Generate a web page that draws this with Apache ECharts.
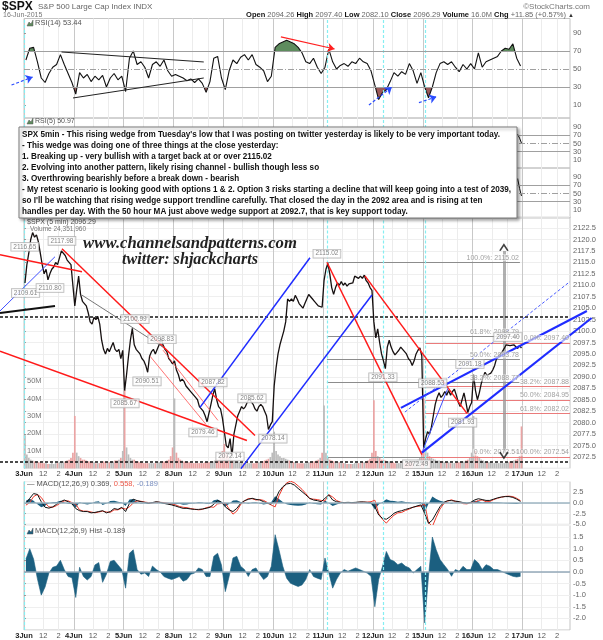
<!DOCTYPE html>
<html>
<head>
<meta charset="utf-8">
<script src="https://cdn.jsdelivr.net/npm/echarts@6/dist/echarts.min.js"></script>
<style>
  html, body { margin: 0; padding: 0; background: #fff; }
  #chart { width: 603px; height: 640px; }
</style>
</head>
<body>
<div id="chart"></div>
<script>
var SESSION = 6.5;   // trading hours per day
var XMAX = 71.2;

var dayLabels = ['3Jun', '4Jun', '5Jun', '8Jun', '9Jun', '10Jun', '11Jun', '12Jun', '15Jun', '16Jun', '17Jun'];
var hourOffsets = [2.5, 4.5];
var hourLabels = ['12', '2'];

// 15-minute closes, one row per session (26 each)
var closes = [
  [2110.5, 2114.5, 2117, 2120, 2121.5, 2120.5, 2121, 2119.5, 2117, 2114.5, 2112.5, 2113.5, 2111.2, 2112.5, 2113.5, 2114, 2115, 2114.5, 2116, 2117.5, 2117.8, 2116.5, 2115.5, 2115, 2114.5, 2114.1],
  [2105.5, 2109, 2112, 2108, 2106.5, 2106, 2105.5, 2104, 2102, 2101.5, 2103, 2102.5, 2103.2, 2101.5, 2098, 2096, 2095, 2096.2, 2095.5, 2096.5, 2097.5, 2096, 2095.5, 2096, 2094, 2095.8],
  [2087, 2090.5, 2094.5, 2098, 2100.6, 2097, 2096, 2095.5, 2095, 2094, 2093.5, 2092.5, 2091, 2094.5, 2095.5, 2096, 2095, 2096, 2097, 2098.4, 2097, 2096, 2095.5, 2094, 2093.5, 2092.8],
  [2093.5, 2091.5, 2090.5, 2089, 2089.5, 2089, 2088, 2087.5, 2087, 2086.5, 2086, 2085.5, 2085, 2083.5, 2083, 2082.5, 2081.5, 2080.2, 2079.8, 2084, 2086, 2087.4, 2085, 2083.5, 2083, 2081],
  [2078, 2075, 2074.5, 2076.5, 2072.6, 2077.5, 2079.5, 2081.5, 2082.5, 2083.5, 2083, 2083.5, 2084.5, 2085.2, 2085.5, 2084, 2083, 2082.5, 2083.5, 2084, 2083.5, 2082.5, 2081.5, 2078.5, 2079.5, 2080.2],
  [2088, 2092, 2095, 2097, 2098.5, 2100, 2102, 2107, 2106.5, 2107, 2106.5, 2107.8, 2107, 2106, 2105.5, 2105, 2106, 2107, 2108, 2107.5, 2107, 2106.5, 2106, 2105.5, 2105.8, 2105.2],
  [2111, 2113.5, 2114.8, 2112.5, 2109.5, 2108, 2109.5, 2110.5, 2110, 2110.8, 2110, 2110.5, 2109.8, 2110.3, 2110, 2110.5, 2112, 2112.3, 2111.5, 2112, 2111.5, 2112.2, 2111, 2110.5, 2109.5, 2108.9],
  [2102, 2098.5, 2100.5, 2097.5, 2095, 2093.5, 2091.8, 2096.5, 2098, 2096.5, 2095.5, 2094.8, 2095.3, 2095.8, 2096.5, 2096.8, 2095.5, 2095, 2094, 2093.5, 2092.5, 2093.5, 2095, 2095.8, 2096.3, 2094.6],
  [2074.5, 2076.5, 2078, 2077.5, 2079, 2081.5, 2084, 2085.5, 2086.5, 2085.5, 2086, 2086.8, 2086, 2087, 2086, 2086.8, 2087.3, 2086, 2084.5, 2083.5, 2085, 2086.5, 2084.5, 2082.2, 2083.5, 2084.4],
  [2090.5, 2087, 2085, 2086.5, 2088.5, 2090, 2091, 2090.3, 2090.5, 2090.8, 2091.5, 2092.5, 2094, 2094.3, 2095, 2095.5, 2096.2, 2097, 2097.3, 2096.8, 2096.5, 2097, 2096.8, 2096.2, 2096.8, 2096.3]
];

// volume of the 5-min bar at each 15-minute step, millions
var volumes = [
  [19, 8, 6, 5, 4.5, 4, 4, 3.5, 3.5, 3, 3, 3, 2.5, 2.5, 3, 2.5, 3, 3, 3.5, 3.5, 4, 4, 4.5, 5, 6, 9],
  [30, 9, 7, 6, 5, 5, 4.5, 4, 4, 3.5, 3.5, 3, 3, 3, 3.5, 4, 3.5, 3.5, 3.5, 4, 4, 4.5, 4.5, 5, 6, 10],
  [45, 12, 8, 6, 5, 5, 4, 4, 3.5, 3.5, 3, 3, 3, 3, 3, 3, 3, 3.5, 3.5, 3.5, 4, 4, 4.5, 5, 7, 12],
  [40, 9, 6, 5, 4.5, 4, 4, 3.5, 3.5, 3, 3, 3, 3, 3, 3, 3, 3.5, 3.5, 3.5, 4, 4, 4.5, 5, 5, 6, 10],
  [14, 9, 7, 6, 5, 4.5, 4, 4, 3.5, 3.5, 3, 3, 3, 3, 3, 3, 3, 3.5, 3.5, 4, 4, 4.5, 5, 5.5, 6.5, 9],
  [21, 10, 8, 7, 6, 6, 5.5, 5, 4.5, 4, 3.5, 3.5, 3, 3, 3, 3, 3, 3, 3.5, 3.5, 4, 4, 4.5, 5, 6, 9],
  [36, 9, 6, 5, 4.5, 4, 4, 3.5, 3.5, 3, 3, 3, 2.5, 2.5, 2.5, 2.5, 3, 3, 3, 3, 3.5, 3.5, 4, 4.5, 5.5, 9],
  [39, 10, 7, 6, 5, 5, 4.5, 4, 4, 3.5, 3.5, 3, 3, 3, 3, 3, 3, 3.5, 3.5, 3.5, 4, 4, 4.5, 5, 6, 10],
  [40, 13, 9, 7, 6, 5.5, 5, 4.5, 4.5, 4, 4, 3.5, 3.5, 3.5, 3, 3, 3, 3.5, 3.5, 3.5, 4, 4, 4.5, 5, 6, 9],
  [30, 10, 7, 6, 5, 4.5, 4, 4, 3.5, 3.5, 3, 3, 3, 3, 3, 3, 3, 3.5, 3.5, 4, 4, 4.5, 5, 5.5, 7, 24]
];

// indicators read every 30 minutes (13 per session)
var rsi14 = [
  [60, 73, 74, 58, 40, 35, 45, 52, 55, 66, 55, 45, 35],
  [22, 46, 40, 44, 36, 42, 38, 43, 30, 40, 45, 38, 42],
  [25, 62, 70, 55, 58, 52, 40, 55, 58, 53, 60, 48, 42],
  [44, 42, 40, 37, 39, 35, 39, 34, 24, 36, 62, 64, 40],
  [27, 48, 60, 56, 63, 66, 60, 66, 55, 52, 48, 36, 42],
  [74, 78, 80, 82, 80, 78, 74, 68, 58, 56, 62, 52, 45],
  [52, 72, 58, 50, 54, 56, 53, 58, 56, 62, 58, 56, 48],
  [32, 16, 24, 27, 36, 46, 42, 47, 44, 56, 48, 34, 46],
  [30, 18, 30, 46, 56, 58, 55, 58, 52, 47, 55, 50, 56],
  [50, 68, 52, 58, 60, 62, 64, 70, 73, 72, 78, 62, 53.44]
];
var macdLine = [
  [-0.1, 1.1, 2.2, 2.0, 0.3, -1.0, -1.2, -0.9, -0.3, 0.3, 0.7, 0.3, -0.2],
  [-1.3, -1.8, -2.0, -2.0, -2.3, -2.2, -2.0, -1.8, -2.3, -2.0, -1.3, -1.5, -1.0],
  [-2.0, -0.1, 0.9, 0.55, 0.3, 0.15, -0.1, 0.1, 0.3, 0.15, -0.1, -0.25, -0.45],
  [-0.7, -1.0, -1.25, -1.25, -1.4, -1.5, -1.5, -1.4, -1.25, -1.0, -0.3, 0.6, 0.2],
  [-0.9, -1.6, -2.0, -1.25, -0.1, 0.55, 0.85, 1.1, 0.85, 0.7, 0.3, -0.1, -0.25],
  [0.7, 2.65, 3.8, 4.45, 4.6, 4.2, 3.4, 2.65, 1.9, 1.1, 0.7, 0.55, 0.3],
  [1.1, 1.9, 0.7, 0.3, 0.15, 0.1, 0.15, 0.1, 0.15, 0.25, 0.25, 0.15, 0.1],
  [-0.85, -2.8, -3.6, -3.8, -3.2, -2.4, -2.0, -1.8, -1.5, -1.25, -1.0, -0.7, -0.45],
  [-2.4, -4.75, -4.0, -2.4, -0.85, 0.15, 0.55, 0.55, 0.45, 0.3, 0.1, -0.1, 0.15],
  [0.7, 1.0, 0.8, 0.6, 0.6, 0.9, 1.2, 1.4, 1.5, 1.5, 1.3, 0.9, 0.369]
];
var signalLine = [
  [-0.5, 0.1, 1.5, 2.0, 1.3, 0.0, -0.9, -1.0, -0.6, 0.0, 0.5, 0.5, 0.1],
  [-0.3, -1.6, -1.9, -1.9, -2.1, -2.3, -2.1, -1.9, -2.1, -2.2, -1.6, -1.6, -1.2],
  [-1.4, -0.9, 0.0, 0.5, 0.4, 0.2, 0.1, 0.0, 0.2, 0.15, 0.1, -0.05, -0.2],
  [-0.45, -0.8, -1.0, -1.1, -1.3, -1.45, -1.6, -1.5, -1.1, -0.9, -1.0, -0.2, -0.1],
  [-0.05, -1.4, -2.6, -1.9, -0.35, 0.45, 1.05, 1.0, 0.7, 0.8, 0.6, 0.1, -0.5],
  [-0.9, 1.7, 3.55, 4.7, 5.1, 4.75, 4.0, 3.2, 2.2, 1.0, 0.9, 0.8, 0.6],
  [0.5, 1.95, 1.4, 0.6, 0.2, 0.0, 0.1, 0.0, 0.0, 0.15, 0.2, 0.2, 0.3],
  [0.65, -2.45, -3.85, -4.7, -3.7, -2.85, -2.3, -2.2, -1.75, -1.4, -0.95, -0.8, -0.7],
  [-0.2, -4.55, -5.5, -3.35, -1.4, -0.15, 0.45, 0.75, 0.35, 0.25, -0.15, -0.2, 0.05],
  [0.15, 0.6, 0.7, 0.3, 0.35, 0.8, 1.1, 1.35, 1.55, 1.6, 1.5, 1.1, 0.558]
];
var macdHist = [
  [0.55, 1.0, 0.55, -0.3, -1.0, -0.65, -0.05, 0.2, 0.25, 0.5, 0.1, -0.2, -0.25],
  [-1.1, 0.2, -0.2, -0.35, -0.2, 0.3, 0.4, -0.45, -0.1, 0.45, 0.5, 0.3, 0.1],
  [-0.7, 0.8, 0.95, 0.1, -0.1, -0.05, -0.2, 0.25, 0.1, 0.0, -0.2, -0.27, -0.33],
  [-0.27, -0.2, -0.4, -0.33, -0.1, -0.05, 0.17, 0.1, -0.2, -0.2, 0.67, 0.8, 0.3],
  [-0.85, -0.2, 0.6, 0.67, 0.24, 0.1, -0.2, 0.1, 0.17, -0.1, -0.33, -0.2, 0.24],
  [1.6, 0.95, 0.24, -0.27, -0.49, -0.56, -0.63, -0.56, -0.33, 0.1, -0.2, -0.27, -0.33],
  [0.6, -0.05, -0.7, -0.33, -0.05, 0.1, 0.03, 0.1, 0.17, 0.1, 0.03, -0.05, -0.19],
  [-1.5, -0.33, 0.24, 0.88, 0.53, 0.46, 0.31, 0.38, 0.24, 0.17, -0.05, 0.1, 0.24],
  [-2.2, -0.19, 1.5, 0.95, 0.53, 0.31, 0.1, -0.19, 0.1, 0.03, 0.24, 0.1, 0.1],
  [0.53, 0.38, 0.1, 0.31, 0.24, 0.1, 0.1, 0.03, -0.05, -0.12, -0.19, -0.22, -0.189]
];

// the two small indicator panels are hidden behind the note, only their last steps show
var rsi5Tail = [66, 72, 63, 50.97];
var panel3Tail = [70, 86, 62, 44];

// annotations, in [hours, price] units
var cyanTimes = [0, 39.5, 46.9, 52.3];
var redLines = [
  [[-3.13, 2116.67], [7.56, 2112.94]],
  [[4.95, 2117.98], [30.12, 2077.19]],
  [[-3.13, 2095.61], [29.07, 2076.10]],
  [[39.5, 2115.02], [51.89, 2073.0]],
  [[44.46, 2112.06], [57.76, 2082.02]]
];
var thinRedLines = [
  [[16.43, 2094.52], [23.73, 2079.61]],
  [[18.12, 2095.83], [25.29, 2080.48]]
];
var blueLines = [
  [[22.95, 2083.33], [37.29, 2116.01]],
  [[28.29, 2069.96], [45.37, 2107.89]]
];
var wedgeLines = [
  [[49.15, 2083.22], [73.40, 2104.39]],
  [[51.89, 2073.46], [74.02, 2102.85]]
];
var thinBlueLines = [
  [[-3.13, 2104.39], [4.04, 2116.23]],
  [[52.0, 2073.9], [55.28, 2087.5]]
];
var dashedBlueLines = [[[49.67, 2082.30], [71.19, 2110.80]]];
var blackLines = [[[-3.13, 2103.95], [4.04, 2105.48]]];
var grayLines = [[[7.52, 2107.89], [18.12, 2096.49]]];
var dottedLevels = [2103.07, 2071.49];
var measureArrow = [62.58, 2117.5, 2073.4];

var fibGray = { from: 39.5, to: 64.67, levels: [[100, 2115.02], [61.8, 2098.79], [50, 2093.78], [38.2, 2088.77], [0, 2072.54]] };
var fibRed = { from: 52.3, to: XMAX, levels: [[0, 2097.40], [38.2, 2087.88], [50, 2084.95], [61.8, 2082.02], [100, 2072.54]] };

var priceTags = [
  ['2116.65', 0.1, 2118.4], ['2117.98', 4.95, 2119.7], ['2109.61', 0.2, 2108.3], ['2110.80', 3.39, 2109.4],
  ['2100.99', 14.47, 2102.6], ['2098.83', 18.0, 2098.2], ['2090.51', 16.04, 2089.0], ['2085.67', 13.17, 2084.2],
  ['2087.82', 24.64, 2088.8], ['2079.46', 23.34, 2077.85], ['2085.62', 29.73, 2085.3], ['2072.14', 26.86, 2072.6],
  ['2078.14', 32.46, 2076.5], ['2115.02', 39.5, 2116.9], ['2091.33', 46.8, 2089.9], ['2088.53', 53.3, 2088.6],
  ['2091.18', 58.15, 2092.8], ['2081.93', 57.2, 2080.0], ['2097.40', 63.1, 2098.7], ['2072.49', 51.2, 2070.9]
];

var rsiLines = [
  [[4.89, 68.9], [23.44, 57.8]],
  [[6.39, 17.8], [23.44, 40.0]]
];
var rsiRedArrows = [[[33.5, 85.6], [40.5, 72.2]]];
var rsiBlueArrows = [
  [[-1.63, 32.2], [1.13, 41.1]],
  [[44.98, 10], [47.98, 30]],
  [[51.5, 12.6], [53.78, 19.2]]
];

var noteLines = [
  "SPX 5min - This rising wedge from Tuesday's low that I was posting on twitter yesterday is likely to be very important today.",
  "- This wedge was doing one of three things at the close yesterday:",
  "1. Breaking up - very bullish with a target back at or over 2115.02",
  "2. Evolving into another pattern, likely rising channel - bullish though less so",
  "3. Overthrowing bearishly before a break down - bearish",
  "- My retest scenario is looking good with options 1 & 2. Option 3 risks starting a decline that will keep going into a test of 2039,",
  "so I'll be watching that rising wedge support trendline carefully. That closed the day in the 2092 area and is rising at ten",
  "handles per day. With the 50 hour MA just above wedge support at 2092.7, that is key support today."
];

// ---------- build series data ----------
function sessionX(d, k, step) { return d * SESSION + (k + 0.5) * step; }

var priceData = [], volData = [], prev = null;
closes.forEach(function (row, d) {
  row.forEach(function (v, k) {
    var x = sessionX(d, k, 0.25);
    priceData.push([x, v]);
    var down = prev !== null && v < prev;
    volData.push({ value: [x, volumes[d][k]], itemStyle: { color: down ? '#eaa4a4' : '#bcbcbc' } });
    prev = v;
  });
});

function halfHourly(rows) {
  var out = [];
  rows.forEach(function (row, d) {
    row.forEach(function (v, k) { out.push([sessionX(d, k, 0.5), v]); });
  });
  return out;
}
var rsiData = halfHourly(rsi14);
var macdData = halfHourly(macdLine);
var signalData = halfHourly(signalLine);
var histData = halfHourly(macdHist);

function tail(vals) {
  var n = vals.length;
  return vals.map(function (v, i) { return [sessionX(9, 26 - n + i, 0.25), v]; });
}

var tickVals = [], tickText = {};
dayLabels.forEach(function (lab, d) {
  var b = d * SESSION;
  tickVals.push(b);
  tickText[b.toFixed(2)] = '{b|' + lab + '}';
  hourOffsets.forEach(function (o, i) {
    tickVals.push(b + o);
    tickText[(b + o).toFixed(2)] = hourLabels[i];
  });
});

// ---------- axes ----------
var FONT = '"Liberation Sans", Arial, sans-serif';
var grids = [
  { top: 18.5, height: 99.5 },
  { top: 118, height: 50 },
  { top: 168, height: 50 },
  { top: 216.6, height: 251.8 },
  { top: 481.6, height: 42.8 },
  { top: 525.4, height: 104.9 }
].map(function (g) {
  return { left: 24, width: 546, top: g.top, height: g.height, show: true, borderColor: '#c4c4c4', borderWidth: 1 };
});

function makeX(gi, labels) {
  return {
    type: 'value', gridIndex: gi, min: 0, max: XMAX,
    axisLine: { show: false },
    axisTick: { show: false, customValues: tickVals },
    axisLabel: {
      show: labels, customValues: tickVals, margin: 2, fontSize: 7.5, color: '#555', fontFamily: FONT,
      formatter: function (v) { return tickText[v.toFixed(2)] || ''; },
      rich: { b: { fontWeight: 'bold', fontSize: 7.5, color: '#222', fontFamily: FONT } }
    },
    splitLine: { show: true, lineStyle: { color: ['#c8c8c8', '#ececec', '#ececec'], width: 1 } }
  };
}

var rsiTicks = [10, 30, 50, 70, 90];
function rsiY(gi, min, max) {
  return {
    type: 'value', gridIndex: gi, min: min, max: max, position: 'right',
    axisLine: { show: false },
    axisTick: { show: true, length: 2, customValues: rsiTicks, lineStyle: { color: '#999' } },
    axisLabel: { customValues: rsiTicks, margin: 3, fontSize: 7.5, color: '#666', fontFamily: FONT },
    splitLine: { show: false }
  };
}

var yLabel = { margin: 3, fontSize: 7.5, color: '#666', fontFamily: FONT, showMinLabel: false, showMaxLabel: false };

var xAxes = [makeX(0, false), makeX(1, false), makeX(2, false), makeX(3, true), makeX(4, false), makeX(5, true)];
var yAxes = [
  rsiY(0, -4.44, 106.1),
  rsiY(1, -9.4, 111.8),
  rsiY(2, -9.4, 111.8),
  {
    type: 'value', gridIndex: 3, min: 2070, max: 2125, interval: 2.5, position: 'right',
    axisLine: { show: false }, axisTick: { show: true, length: 2, lineStyle: { color: '#999' } },
    axisLabel: Object.assign({ formatter: function (v) { return v.toFixed(1); } }, yLabel),
    splitLine: { lineStyle: { color: '#efefef' } }
  },
  {
    type: 'value', gridIndex: 3, min: 0, max: 144, interval: 10, position: 'left',
    axisLine: { show: false }, axisTick: { show: false }, splitLine: { show: false },
    axisLabel: {
      inside: true, margin: 3, fontSize: 7.5, color: '#777', fontFamily: FONT,
      formatter: function (v) { return (v >= 10 && v <= 50) ? v + 'M' : ''; }
    }
  },
  {
    type: 'value', gridIndex: 4, min: -5, max: 5, interval: 2.5, position: 'right',
    axisLine: { show: false }, axisTick: { show: true, length: 2, lineStyle: { color: '#999' } },
    axisLabel: { margin: 3, fontSize: 7.5, color: '#666', fontFamily: FONT, showMaxLabel: false,
      formatter: function (v) { return v.toFixed(1); } },
    splitLine: { lineStyle: { color: '#efefef' } }
  },
  {
    type: 'value', gridIndex: 5, min: -2.5, max: 2, interval: 0.5, position: 'right',
    axisLine: { show: false }, axisTick: { show: true, length: 2, lineStyle: { color: '#999' } },
    axisLabel: Object.assign({ formatter: function (v) { return v.toFixed(1); } }, yLabel),
    splitLine: { lineStyle: { color: '#efefef' } }
  }
];

// ---------- helpers for marks ----------
function cyanMarks(extra) {
  var data = cyanTimes.map(function (t) {
    return { xAxis: t, lineStyle: { color: '#86eef2', type: [3, 2], width: 1.2 } };
  });
  return { silent: true, symbol: 'none', label: { show: false }, data: data.concat(extra || []) };
}
var rsiLevels = [
  { yAxis: 70, lineStyle: { color: '#a0a0a0', type: 'solid', width: 1 } },
  { yAxis: 50, lineStyle: { color: '#a0a0a0', type: [6, 2, 1, 2], width: 1 } },
  { yAxis: 30, lineStyle: { color: '#a0a0a0', type: 'solid', width: 1 } }
];

function segs(list, color, width, type) {
  return list.map(function (s) {
    return { coords: s, lineStyle: { color: color, width: width, type: type || 'solid', opacity: 1 } };
  });
}
function linesSeries(xi, yi, data, extra) {
  return Object.assign({
    type: 'lines', coordinateSystem: 'cartesian2d', xAxisIndex: xi, yAxisIndex: yi,
    clip: false, silent: true, symbol: 'none', polyline: false, data: data, z: 6
  }, extra || {});
}

var fibSegs = [], fibTags = [];
function addFib(f, color, textColor) {
  f.levels.forEach(function (lv) {
    fibSegs.push({ coords: [[f.from, lv[1]], [f.to, lv[1]]], lineStyle: { color: color, width: 1, opacity: 1 } });
    fibTags.push({ value: [f.to, lv[1], lv[0].toFixed(1) + '%: ' + lv[1].toFixed(2)], label: { color: textColor } });
  });
}
addFib(fibGray, '#8c8c8c', '#888');
addFib(fibRed, '#ea7b7b', '#888');

var dottedSegs = dottedLevels.map(function (p) {
  return { coords: [[-3.13, p], [XMAX, p]], lineStyle: { color: '#111', width: 1.5, type: [3, 2], opacity: 1 } };
});

var series = [];
// RSI(14) panel
series.push({
  type: 'line', xAxisIndex: 0, yAxisIndex: 0, data: rsiData, symbol: 'none', silent: true,
  lineStyle: { width: 0 }, areaStyle: { origin: 50, opacity: 1 }, z: 2
});
var rsiFillIndex = 0;
series.push({
  type: 'line', xAxisIndex: 0, yAxisIndex: 0, data: rsiData, symbol: 'none', silent: true,
  lineStyle: { color: '#111', width: 1.1 }, z: 4, markLine: cyanMarks(rsiLevels)
});
series.push(linesSeries(0, 0, segs(rsiLines, '#222', 1)));
series.push(linesSeries(0, 0, segs(rsiRedArrows, '#ff2020', 1.2), { symbol: ['none', 'arrow'], symbolSize: 7 }));
series.push(linesSeries(0, 0, segs(rsiBlueArrows, '#2a4cff', 1.2, [3, 2]), { symbol: ['none', 'arrow'], symbolSize: 7 }));
// hidden indicator panels
series.push({
  type: 'line', xAxisIndex: 1, yAxisIndex: 1, data: tail(rsi5Tail), symbol: 'none', silent: true,
  lineStyle: { color: '#111', width: 1 }, markLine: cyanMarks(rsiLevels)
});
series.push({
  type: 'line', xAxisIndex: 2, yAxisIndex: 2, data: tail(panel3Tail), symbol: 'none', silent: true,
  lineStyle: { color: '#111', width: 1 }, markLine: cyanMarks(rsiLevels)
});
// price panel
series.push({ type: 'bar', xAxisIndex: 3, yAxisIndex: 4, data: volData, barWidth: 1.7, silent: true, z: 1 });
series.push({
  type: 'line', xAxisIndex: 3, yAxisIndex: 3, data: priceData, symbol: 'none', silent: true,
  lineStyle: { color: '#161010', width: 1.3 }, z: 5, markLine: cyanMarks()
});
series.push(linesSeries(3, 3, fibSegs, { z: 3 }));
series.push(linesSeries(3, 3, dottedSegs));
series.push(linesSeries(3, 3,
  segs(redLines, '#ff1a1a', 1.5)
    .concat(segs(thinRedLines, '#ff5050', 0.8))
    .concat(segs(blueLines, '#1f2cff', 1.5))
    .concat(segs(wedgeLines, '#1f2cff', 2.2))
    .concat(segs(thinBlueLines, '#4050ff', 1))
    .concat(segs(dashedBlueLines, '#4a5cff', 1, [3, 2]))
    .concat(segs(blackLines, '#111', 2))
    .concat(segs(grayLines, '#777', 1))
));
series.push(linesSeries(3, 3, [{
  coords: [[measureArrow[0], measureArrow[1]], [measureArrow[0], measureArrow[2]]],
  lineStyle: { color: 'rgba(150,150,150,0.75)', width: 3, opacity: 1 }
}], { z: 4 }));
series.push({
  type: 'scatter', xAxisIndex: 3, yAxisIndex: 3, silent: true, clip: false, z: 8,
  symbol: 'path://M0,7 L5,0 L10,7', symbolSize: [8, 6], symbolKeepAspect: false,
  itemStyle: { color: 'none', borderColor: '#111', borderWidth: 1.5 },
  data: [
    { value: [measureArrow[0], measureArrow[1] + 0.7] },
    { value: [measureArrow[0], measureArrow[2] - 0.5], symbolRotate: 180 }
  ]
});
series.push({
  type: 'scatter', xAxisIndex: 3, yAxisIndex: 3, data: fibTags, silent: true, clip: false, z: 7,
  symbolSize: 1, itemStyle: { color: 'rgba(0,0,0,0)' },
  label: {
    show: true, position: 'inside', align: 'right', verticalAlign: 'bottom', offset: [0, -1],
    fontSize: 7, fontFamily: FONT, backgroundColor: 'rgba(255,255,255,0.75)', padding: [0, 1],
    formatter: function (p) { return p.value[2]; }
  }
});
series.push({
  type: 'scatter', xAxisIndex: 3, yAxisIndex: 3, silent: true, clip: false, z: 9,
  symbolSize: 1, itemStyle: { color: 'rgba(0,0,0,0)' },
  data: priceTags.map(function (t) { return [t[1], t[2], t[0]]; }),
  label: {
    show: true, position: 'inside', fontSize: 6.5, color: '#666', fontFamily: FONT,
    backgroundColor: '#fff', borderColor: '#a8a8a8', borderWidth: 0.8, padding: [1, 2, 0, 2],
    formatter: function (p) { return p.value[2]; }
  }
});
// MACD panel
series.push({
  type: 'line', xAxisIndex: 4, yAxisIndex: 5, data: histData, symbol: 'none', silent: true,
  lineStyle: { width: 0 }, areaStyle: { color: '#1b5f80', opacity: 1 }, z: 2,
  markLine: cyanMarks([{ yAxis: 0, lineStyle: { color: '#9cb4c2', type: 'solid', width: 1.5 } }])
});
series.push({
  type: 'line', xAxisIndex: 4, yAxisIndex: 5, data: signalData, symbol: 'none', silent: true,
  lineStyle: { color: '#ef3b2c', width: 1 }, z: 3
});
series.push({
  type: 'line', xAxisIndex: 4, yAxisIndex: 5, data: macdData, symbol: 'none', silent: true,
  lineStyle: { color: '#111', width: 1 }, z: 4
});
// histogram panel
series.push({
  type: 'line', xAxisIndex: 5, yAxisIndex: 6, data: histData, symbol: 'none', silent: true,
  lineStyle: { color: '#1b5f80', width: 0.6 }, areaStyle: { color: '#1b5f80', opacity: 1 }, z: 3,
  markLine: cyanMarks([{ yAxis: 0, lineStyle: { color: '#93a9b8', type: 'solid', width: 1.5 } }])
});

// ---------- text ----------
var ctx = document.createElement('canvas').getContext('2d');
function textWidth(str, font) { ctx.font = font; return ctx.measureText(str).width; }

var NOTE_FONT = 'bold 9px "Liberation Sans Narrow", "Liberation Sans", Arial, sans-serif';
var noteScale = 478 / textWidth(noteLines[0], NOTE_FONT);

var WM_BASE = 'italic bold 15px "Liberation Serif", "DejaVu Serif", serif';
var wmScale = 214 / textWidth('www.channelsandpatterns.com', WM_BASE);
function wmFont(size) { return 'italic bold ' + (size * wmScale).toFixed(2) + 'px "Liberation Serif", "DejaVu Serif", serif'; }

var graphics = [];
function txt(x, y, text, font, fill, align) {
  graphics.push({
    type: 'text', x: x, y: y, silent: true, z: 100,
    style: { text: text, font: font, fill: fill, align: align || 'left', verticalAlign: 'middle' }
  });
}

txt(2, 7, '$SPX', 'bold 12px ' + FONT, '#111');
txt(38, 7, 'S&P 500 Large Cap Index INDX', '8px ' + FONT, '#666');
txt(590, 7, '\u00a9StockCharts.com', '8px ' + FONT, '#777', 'right');
txt(3, 15, '16-Jun-2015', '7px ' + FONT, '#777');
graphics.push({
  type: 'text', x: 574, y: 15, silent: true, z: 100,
  style: {
    text: '{k|Open} {v|2094.26} {k|High} {v|2097.40} {k|Low} {v|2082.10} {k|Close} {v|2096.29} {k|Volume} {v|16.0M} {k|Chg} {v|+11.85 (+0.57%)} {a|\u25b2}',
    align: 'right', verticalAlign: 'middle', font: '7.5px ' + FONT,
    rich: {
      k: { font: 'bold 7.5px ' + FONT, fill: '#111' },
      v: { font: '7.5px ' + FONT, fill: '#666' },
      a: { font: '6px ' + FONT, fill: '#333' }
    }
  }
});

// panel captions
function icon(x, y, color) {
  graphics.push({
    type: 'polygon', silent: true, z: 100,
    shape: { points: [[x, y + 3], [x + 2, y - 1], [x + 4, y + 1], [x + 6, y - 3], [x + 6, y + 3]] },
    style: { fill: color, stroke: '#555', lineWidth: 0.5 }
  });
}
icon(27, 23, '#5e8c5e');
txt(35, 23, 'RSI(14) 53.44', '7.5px ' + FONT, '#555');
icon(27, 121, '#5e8c5e');
txt(35, 121, 'RSI(5) 50.97', '7px ' + FONT, '#555');
txt(27, 222, '$SPX (5 min) 2096.29', '7px ' + FONT, '#555');
txt(30, 229, 'Volume 24,351,960', '6.5px ' + FONT, '#777');
graphics.push({
  type: 'text', x: 27, y: 484, silent: true, z: 100,
  style: {
    text: '{k|\u2014 MACD(12,26,9) 0.369, }{r|0.558, }{b|-0.189}', verticalAlign: 'middle',
    rich: {
      k: { font: '7.5px ' + FONT, fill: '#555' },
      r: { font: '7.5px ' + FONT, fill: '#ef5a4a' },
      b: { font: '7.5px ' + FONT, fill: '#7a8fc0' }
    }
  }
});
icon(27, 531, '#1b5f80');
txt(35, 531, 'MACD(12,26,9) Hist -0.189', '7.5px ' + FONT, '#555');

// watermark
txt(190, 244, 'www.channelsandpatterns.com', wmFont(15), '#222', 'center');
txt(190, 260, 'twitter: shjackcharts', wmFont(14.5), '#222', 'center');

// the note box
graphics.push({
  type: 'rect', silent: true, z: 200,
  shape: { x: 19, y: 127, width: 498, height: 91 },
  style: { fill: '#fff', stroke: '#7a7a7a', lineWidth: 1, shadowBlur: 3, shadowOffsetX: 2, shadowOffsetY: 2, shadowColor: 'rgba(0,0,0,0.35)' }
});
noteLines.forEach(function (line, i) {
  graphics.push({
    type: 'text', x: 22, y: 134.5 + i * 11, scaleX: noteScale, silent: true, z: 201,
    style: { text: line, font: NOTE_FONT, fill: '#111', verticalAlign: 'middle' }
  });
});

var chart = echarts.init(document.getElementById('chart'), null, { renderer: 'canvas' });
chart.setOption({
  animation: false,
  backgroundColor: '#fff',
  grid: grids,
  xAxis: xAxes,
  yAxis: yAxes,
  visualMap: [{
    type: 'piecewise', show: false, seriesIndex: rsiFillIndex, dimension: 1,
    pieces: [
      { gt: 70, color: '#5e8c5e' },
      { gte: 30, lte: 70, color: 'rgba(255,255,255,0)' },
      { lt: 30, color: '#9c5a5a' }
    ]
  }],
  series: series,
  graphic: graphics
});
</script>
</body>
</html>
